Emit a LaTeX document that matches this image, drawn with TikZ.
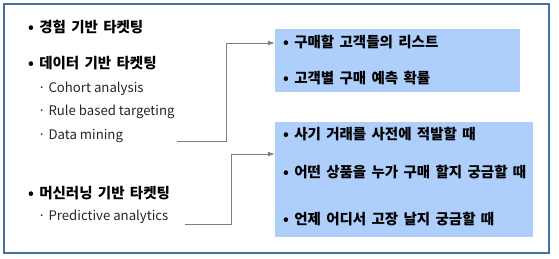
\documentclass[tikz,border=0pt]{standalone}
\usepackage{fontspec}
\setmainfont{Noto Sans CJK KR}
\newfontfamily\kofont{Noto Sans CJK KR}[WordSpace=1.6]
\usetikzlibrary{arrows.meta,positioning,calc}
\definecolor{framecol}{HTML}{41719C}
\definecolor{itemfill}{HTML}{AECFFB}
\definecolor{linkgrey}{HTML}{7F7F7F}
\tikzset{
  headtext/.style={anchor=west, inner sep=0pt, font=\kofont\fontsize{14.5}{16}\selectfont\bfseries},
  subtext/.style={anchor=west, inner sep=0pt, font=\fontsize{13.2}{15}\selectfont, text=black!85},
  itembox/.style={rectangle, draw=none, fill=itemfill, inner sep=0pt},
  linkarrow/.style={-{Latex[length=7pt,width=5pt]}, linkgrey, line width=0.8pt}
}

\begin{document}
\begin{tikzpicture}[x=1pt,y=-1pt]
\useasboundingbox (0,0) rectangle (559,258);
\draw[framecol, line width=1.2pt] (4,4) rectangle (549,253);

% left column
\node[headtext] (exp) at (28,27) {• 경험 기반 타켓팅};
\node[headtext] (data) at (28,63) {• 데이터 기반 타켓팅};
\node[subtext] (coh) at (38,89) {· Cohort analysis};
\node[subtext] (rule) at (38,112) {· Rule based targeting};
\node[subtext] (dm) at (38,136) {· Data mining};
\node[headtext] (ml) at (28,193) {• 머신러닝 기반 타켓팅};
\node[subtext] (pred) at (38,217) {· Predictive analytics};

% right boxes
\node[itembox, minimum width=245pt, minimum height=63pt] (bx1) at (397.5,60.5) {};
\node[itembox, minimum width=258pt, minimum height=115pt] (bx2) at (404,179.5) {};

\node[headtext] (lst) at (283,42) {• 구매할 고객들의 리스트};
\node[headtext] (prob) at (283,78) {• 고객별 구매 예측 확률};
\node[headtext] (fraud) at (283,134) {• 사기 거래를 사전에 적발할 때};
\node[headtext] (who) at (283,172) {• 어떤 상품을 누가 구매 할지 궁금할 때};
\node[headtext] (fail) at (283,219) {• 언제 어디서 고장 날지 궁금할 때};

% links
\coordinate (dmtail) at (177,141);
\coordinate (predtail) at (185,224);
\draw[linkarrow] (dmtail) -- ++(49,0) |- (bx1.west |- 0,43);
\draw[linkarrow] (predtail) -- ++(46,0) |- (bx2.west |- 0,154);
\end{tikzpicture}
\end{document}
